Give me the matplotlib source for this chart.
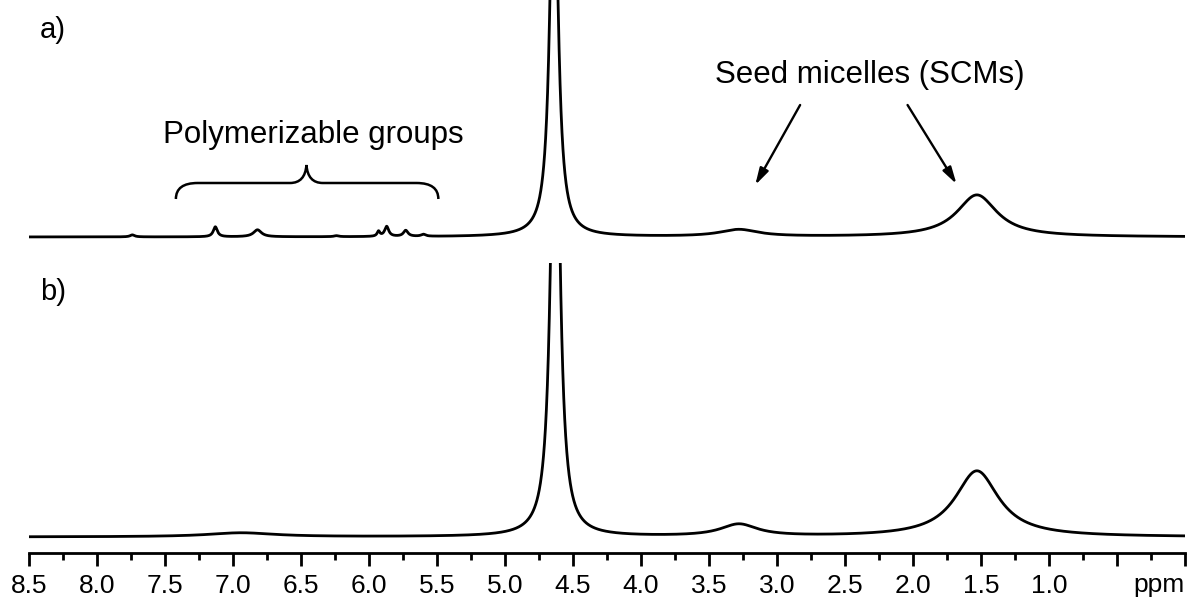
import numpy as np
import matplotlib
matplotlib.use('Agg')
import matplotlib.pyplot as plt
from matplotlib.path import Path
from matplotlib.patches import PathPatch

plt.rcParams['font.family'] = ['Liberation Sans', 'DejaVu Sans']

# peak list: position (ppm), height, half width (ppm)
pos_a = [7.74, 7.13, 6.82, 6.24, 5.93, 5.87, 5.73, 5.60, 4.64, 3.28, 1.53]
height_a = [2, 10, 7, 1, 5, 10, 6, 2, 420, 7, 42]
hw_a = [0.02, 0.018, 0.035, 0.02, 0.012, 0.018, 0.02, 0.02, 0.034, 0.17, 0.18]

pos_b = [6.94, 4.63, 3.28, 1.53]
height_b = [4, 550, 12, 66]
hw_b = [0.30, 0.036, 0.165, 0.195]

major_ticks = [8.5, 8.0, 7.5, 7.0, 6.5, 6.0, 5.5, 5.0, 4.5, 4.0, 3.5, 3.0, 2.5, 2.0, 1.5, 1.0, 0.5, 0.0]
tick_labels = ['8.5', '8.0', '7.5', '7.0', '6.5', '6.0', '5.5', '5.0', '4.5', '4.0',
               '3.5', '3.0', '2.5', '2.0', '1.5', '1.0', '', '']

ppm = np.linspace(8.5, 0.0, 6000)


def spectrum(pos, hei, hw):
    y = np.zeros_like(ppm)
    for p, h, w in zip(pos, hei, hw):
        y += h * w**2 / ((ppm - p)**2 + w**2)
    return y


W, H = 1188, 603
fig = plt.figure(figsize=(W / 100, H / 100), dpi=100)
left = 29 / W
width = (1185 - 29) / W

# top panel (a)
ax1 = fig.add_axes([left, 1 - 250 / H, width, 250 / H])
ax1.plot(ppm, spectrum(pos_a, height_a, hw_a), color='black', lw=2.0)
ax1.set_xlim(8.5, 0.0)
ax1.set_ylim(-13, 237)
ax1.axis('off')

# bottom panel (b)
ax2 = fig.add_axes([left, 1 - 553 / H, width, (553 - 263) / H])
ax2.plot(ppm, spectrum(pos_b, height_b, hw_b), color='black', lw=2.0)
ax2.set_xlim(8.5, 0.0)
ax2.set_ylim(-16, 274)
for s in ['top', 'left', 'right']:
    ax2.spines[s].set_visible(False)
ax2.spines['bottom'].set_linewidth(2.0)
ax2.set_yticks([])
ax2.set_xticks(major_ticks)
ax2.set_xticklabels(tick_labels, fontsize=19)
ax2.set_xticks(np.arange(0.25, 8.5, 0.5), minor=True)
ax2.tick_params(axis='x', which='major', direction='out', length=9.4, width=2.0, pad=6)
ax2.tick_params(axis='x', which='minor', direction='out', length=5, width=2.0)
ax2.text(0.0, -0.069, 'ppm', transform=ax2.get_xaxis_transform(), ha='right', va='top',
         fontsize=19, clip_on=False)

# labels
fig.text(53 / W, 1 - 30 / H, 'a)', fontsize=21, ha='center', va='center')
fig.text(53 / W, 1 - 292 / H, 'b)', fontsize=21, ha='center', va='center')

ax1.text(6.41, 102, 'Polymerizable groups', fontsize=22.5, ha='center', va='center')
ax1.text(2.32, 162, 'Seed micelles (SCMs)', fontsize=22.5, ha='center', va='center')

# arrows
arrow = dict(arrowstyle='-|>,head_length=1.0,head_width=0.28', color='black', lw=1.7,
             shrinkA=0, shrinkB=0)
ax1.annotate('', xy=(3.16, 52), xytext=(2.83, 132), arrowprops=arrow, annotation_clip=False)
ax1.annotate('', xy=(1.68, 53), xytext=(2.04, 132), arrowprops=arrow, annotation_clip=False)

# curly brace
verts = [(7.42, 38), (7.42, 54), (7.26, 54),
         (6.58, 54),
         (6.47, 54), (6.46, 72),
         (6.45, 54), (6.34, 54),
         (5.65, 54),
         (5.49, 54), (5.49, 38)]
codes = [Path.MOVETO, Path.CURVE3, Path.CURVE3,
         Path.LINETO,
         Path.CURVE3, Path.CURVE3,
         Path.CURVE3, Path.CURVE3,
         Path.LINETO,
         Path.CURVE3, Path.CURVE3]
ax1.add_patch(PathPatch(Path(verts, codes), facecolor='none', edgecolor='black', lw=1.8))

fig.savefig('out.png', dpi=100)
